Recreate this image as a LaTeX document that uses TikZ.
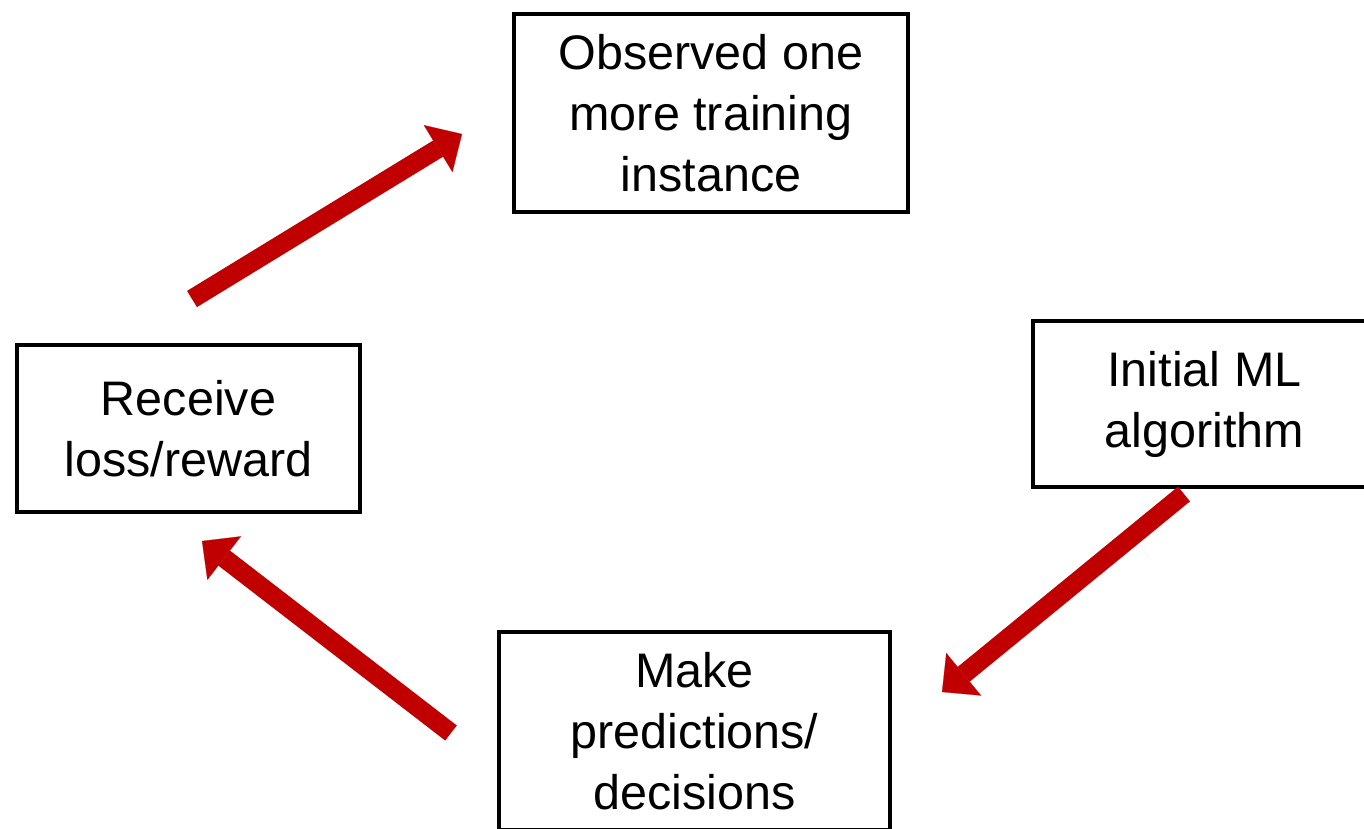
\documentclass[tikz,border=0pt]{standalone}
\usepackage{fontspec}
\setmainfont{Liberation Sans}
\usetikzlibrary{arrows.meta}
\definecolor{darkred}{HTML}{C00000}

\begin{document}
\begin{tikzpicture}[x=0.5pt, y=-0.5pt,
  stepbox/.style={draw, line width=2pt, inner sep=0pt, align=center,
    font=\fontsize{24.25}{30.5}\selectfont},
  bigarrow/.style={draw=darkred, line width=9.5pt,
    -{Triangle[width=27.5pt, length=14pt, line width=0.1pt]}}]
\useasboundingbox (0,0) rectangle (1364,829);
\clip (0,0) rectangle (1364,829);
% boxes
\node [stepbox, minimum width=197pt, minimum height=99pt] (observe) at (711,113) {Observed one\\more training\\instance};
\node [stepbox, minimum width=171.5pt, minimum height=83.5pt] (receive) at (188.5,428.5) {Receive\\loss/reward};
\node [stepbox, minimum width=171.5pt, minimum height=83pt] (initial) at (1204.5,404) {Initial ML\\algorithm};
\node [stepbox, minimum width=195.5pt, minimum height=99pt] (predict) at (694.5,731) {Make\\predictions/\\decisions};
% arrow ends
\coordinate (initialtail) at (1184,494);
\coordinate (predicttip) at (942,692);
\coordinate (predicttail) at (451,733);
\coordinate (receivetip) at (202,541);
\coordinate (receivetail) at (192,299);
\coordinate (observetip) at (462,134);
% arrows
\draw [bigarrow] (initialtail) -- (predicttip);
\draw [bigarrow] (predicttail) -- (receivetip);
\draw [bigarrow] (receivetail) -- (observetip);
\end{tikzpicture}
\end{document}
